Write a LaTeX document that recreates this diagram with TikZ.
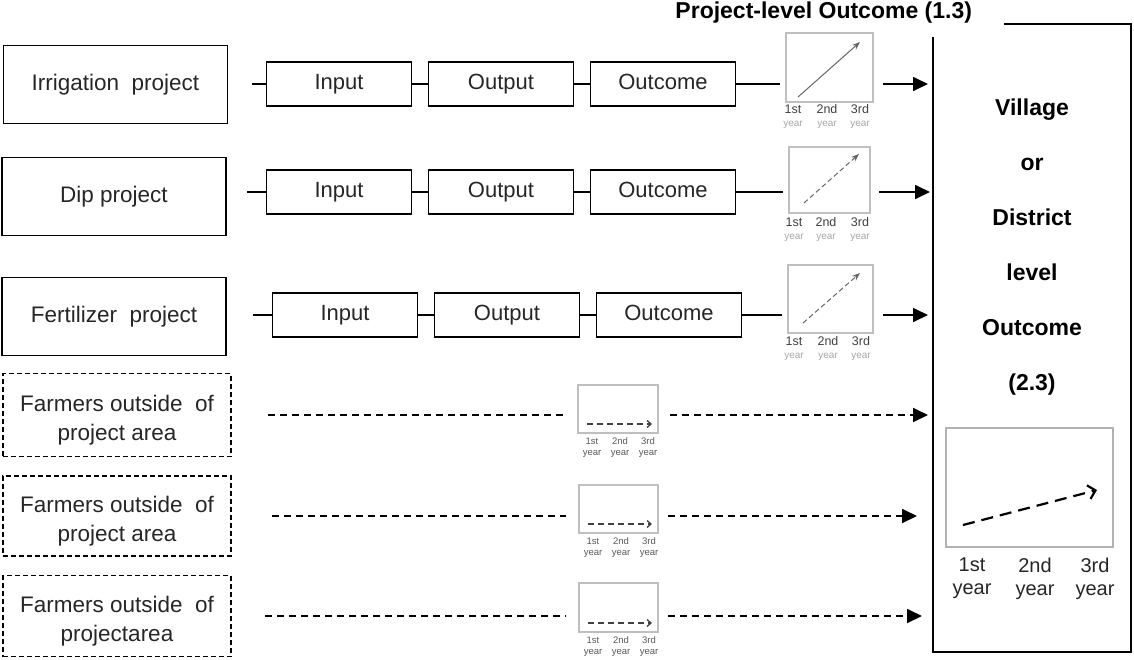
\documentclass[tikz,border=0pt]{standalone}
\usepackage{fontspec}
\setmainfont{Liberation Sans}
\usetikzlibrary{positioning}
\usetikzlibrary{arrows.meta}
\usetikzlibrary{calc}

\begin{document}
\begin{tikzpicture}[
    x=1pt, y=-1pt,
    every node/.style = {inner sep=0pt, outer sep=0pt},
    proj/.style = {draw, line width=1.4pt, minimum width=224pt, minimum height=78pt, align=center,
      font=\fontsize{22.5}{29}\selectfont, text=black!85},
    single/.style = {text height=16pt, text depth=5pt},
    outside/.style = {proj, line width=1.3pt, dash pattern=on 5pt off 3pt, minimum width=228pt},
    stage/.style = {draw, line width=1.3pt, minimum width=145pt, minimum height=44pt,
      text height=16pt, text depth=4.5pt, font=\fontsize{22}{26}\selectfont, text=black!85},
    link/.style = {line width=1.4pt},
    dlink/.style = {line width=1.8pt, dash pattern=on 7pt off 5pt},
    feed/.style = {line width=1.7pt, -{Triangle[length=15pt,width=14pt]}},
    dfeed/.style = {feed, line width=1.8pt, dash pattern=on 7pt off 5pt},
    chart/.style = {draw=gray!50, line width=1.1pt},
    trend/.style = {gray!80!black, line width=1pt, -{Stealth[length=8pt,width=6pt]}},
    flat/.style = {black!75, line width=1.3pt, dash pattern=on 6pt off 4pt, -{Straight Barb[length=4pt,width=7pt]}},
    bigtrend/.style = {black, line width=2.2pt, dash pattern=on 12pt off 7pt, -{Straight Barb[length=7pt,width=14pt]}},
    yr/.style = {font=\fontsize{12.5}{13}\selectfont, align=center, text=black!75},
    yrsm/.style = {font=\fontsize{9.5}{11}\selectfont, align=center, text=black!65},
    yrbig/.style = {font=\fontsize{20}{23}\selectfont, align=center, text=black!85},
    heading/.style = {font=\bfseries\fontsize{23}{55}\selectfont, align=center},
  ]
  \useasboundingbox (0,0) rectangle (1134,659);

  % village / district box
  \draw[line width=1.4pt] (1004,24) -- (1131,24) -- (1131,652) -- (933,652) -- (933,37);
  \coordinate (edge) at (933,0);
  \node[font=\bfseries\fontsize{23}{26}\selectfont, anchor=east] (title) at (972,13) {Project-level Outcome (1.3)};
  \node[heading] (district) at (1032,247) {Village\\or\\District\\level\\Outcome\\(2.3)};
  \node[chart, draw=gray!60, line width=1.3pt, minimum width=167pt, minimum height=119pt] (big) at (1029.5,487.5) {};
  \draw[bigtrend] ($(big.south west)+(17,-22)$) -- ($(big.north east)+(-16,62)$);
  \foreach \lab/\dx [count=\i] in {1st/26,2nd/89,3rd/149}
    \node[yrbig] (bigyr\i) at ($(big.south west)+(\dx,31.5)$) {\lab\\year};

  % irrigation
  \node[proj, single] (irr) at (115.5,84.5) {Irrigation\ \ project};
  \node[stage] (in1) at (339,84) {Input};
  \node[stage, right=17pt of in1] (out1) {Output};
  \node[stage, right=17pt of out1] (res1) {Outcome};
  \node[chart, minimum width=87pt, minimum height=69pt] (ch1) at (829.5,67.5) {};
  \draw[link, shorten <=24pt] (in1 -| irr.east) -- (in1.west);
  \draw[link] (in1) -- (out1);
  \draw[link] (out1) -- (res1);
  \draw[link, shorten >=6pt] (res1) -- (res1 -| ch1.west);
  \draw[trend] ($(ch1.south west)+(12,-5)$) -- ($(ch1.north east)+(-13,9)$);
  \draw[feed, shorten <=10pt, shorten >=5pt] (res1 -| ch1.east) -- (res1 -| edge);
  \foreach \lab/\dx [count=\i] in {1st/7,2nd/41,3rd/74}
    \node[yr] (yra\i) at ($(ch1.south west)+(\dx,15)$) {\lab\\\textcolor{gray!70}{\fontsize{10}{11}\selectfont year}};

  % dip
  \node[proj, single] (dip) at (114,196.5) {Dip project};
  \node[stage] (in2) at (339,192) {Input};
  \node[stage, right=17pt of in2] (out2) {Output};
  \node[stage, right=17pt of out2] (res2) {Outcome};
  \node[chart, minimum width=81pt, minimum height=66pt] (ch2) at (829.5,180) {};
  \draw[link, shorten <=21pt] (in2 -| dip.east) -- (in2.west);
  \draw[link] (in2) -- (out2);
  \draw[link] (out2) -- (res2);
  \draw[link, shorten >=6pt] (res2) -- (res2 -| ch2.west);
  \draw[trend, dash pattern=on 5pt off 3pt] ($(ch2.south west)+(15,-10)$) -- ($(ch2.north east)+(-11,7)$);
  \draw[feed, shorten <=9pt, shorten >=3pt] (res2 -| ch2.east) -- (res2 -| edge);
  \foreach \lab/\dx [count=\i] in {1st/5,2nd/37,3rd/71}
    \node[yr] (yrb\i) at ($(ch2.south west)+(\dx,17)$) {\lab\\\textcolor{gray!70}{\fontsize{10}{11}\selectfont year}};

  % fertilizer
  \node[proj, single] (fert) at (114,316.5) {Fertilizer\ \ project};
  \node[stage] (in3) at (345,315) {Input};
  \node[stage, right=17pt of in3] (out3) {Output};
  \node[stage, right=17pt of out3] (res3) {Outcome};
  \node[chart, minimum width=85pt, minimum height=68pt] (ch3) at (830.5,299) {};
  \draw[link, shorten <=27pt] (in3 -| fert.east) -- (in3.west);
  \draw[link] (in3) -- (out3);
  \draw[link] (out3) -- (res3);
  \draw[link, shorten >=6pt] (res3) -- (res3 -| ch3.west);
  \draw[trend, dash pattern=on 5pt off 3pt] ($(ch3.south west)+(15,-10)$) -- ($(ch3.north east)+(-13,8)$);
  \draw[feed, shorten <=10pt, shorten >=5pt] (res3 -| ch3.east) -- (res3 -| edge);
  \foreach \lab/\dx [count=\i] in {1st/6,2nd/40,3rd/73}
    \node[yr] (yrc\i) at ($(ch3.south west)+(\dx,15.5)$) {\lab\\\textcolor{gray!70}{\fontsize{10}{11}\selectfont year}};

  % farmers outside
  \node[outside, minimum height=83pt] (far1) at (117,415) {\rule{0pt}{26pt}Farmers outside\ \ of\\project area};
  \node[outside, minimum height=80pt] (far2) at (117,516) {\rule{0pt}{26pt}Farmers outside\ \ of\\project area};
  \node[outside, minimum height=81pt] (far3) at (117,616) {\rule{0pt}{26pt}Farmers outside\ \ of\\projectarea};
  \node[chart, minimum width=80pt, minimum height=48pt] (sm1) at (618,409) {};
  \node[chart, minimum width=79pt, minimum height=48pt] (sm2) at (618.5,509) {};
  \node[chart, minimum width=79pt, minimum height=49pt] (sm3) at (618.5,607.5) {};
  \draw[dlink, shorten <=37pt, shorten >=13pt] (far1.east) -- (far1 -| sm1.west);
  \draw[dlink, shorten <=41pt, shorten >=13pt] (far2.east) -- (far2 -| sm2.west);
  \draw[dlink, shorten <=34pt, shorten >=13pt] (far3.east) -- (far3 -| sm3.west);
  \draw[dfeed, shorten <=12pt, shorten >=5pt] (far1 -| sm1.east) -- (far1 -| edge);
  \draw[dfeed, shorten <=10pt, shorten >=16pt] (far2 -| sm2.east) -- (far2 -| edge);
  \draw[dfeed, shorten <=10pt, shorten >=11pt] (far3 -| sm3.east) -- (far3 -| edge);
  \foreach \s in {sm1,sm2,sm3} {
    \draw[flat] ($(\s.south west)+(9,-9)$) -- ($(\s.south east)+(-6,-9)$);
    \foreach \lab/\dx [count=\i] in {1st/14,2nd/42,3rd/70}
      \node[yrsm] (\s-yr\i) at ($(\s.south west)+(\dx,15)$) {\lab\\year};
  }
\end{tikzpicture}
\end{document}
